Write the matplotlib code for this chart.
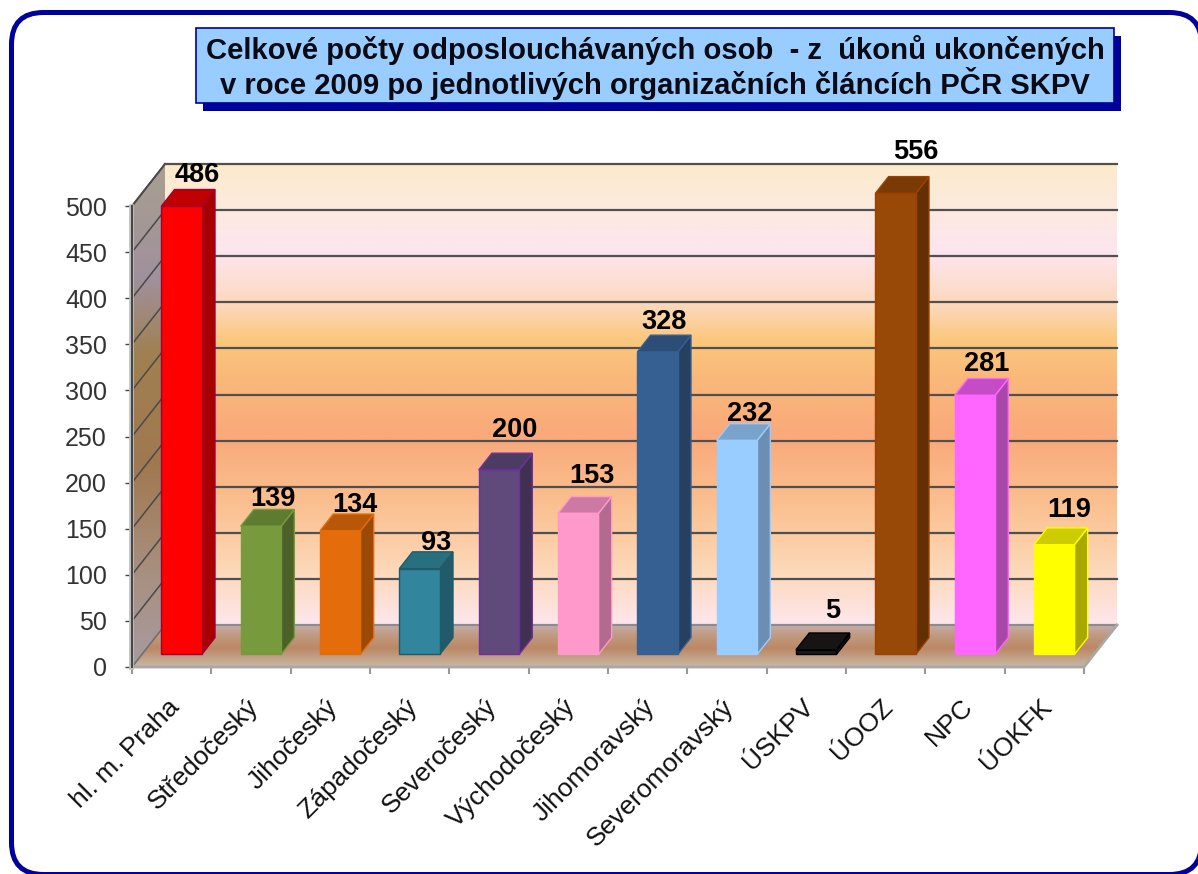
import numpy as np
import matplotlib
matplotlib.use("Agg")
import matplotlib.pyplot as plt
from matplotlib.colors import LinearSegmentedColormap
from matplotlib.patches import FancyBboxPatch, Polygon, Rectangle

plt.rcParams['font.family'] = ['Liberation Sans', 'DejaVu Sans']

categories = ["hl. m. Praha", "Středočeský", "Jihočeský", "Západočeský", "Severočeský",
              "Východočeský", "Jihomoravský", "Severomoravský", "ÚSKPV", "ÚOOZ", "NPC", "ÚOKFK"]
values = [486, 139, 134, 93, 200, 153, 328, 232, 5, 556, 281, 119]
y_ticks = [0, 50, 100, 150, 200, 250, 300, 350, 400, 450, 500]
title_lines = ["Celkové počty odposlouchávaných osob  - z  úkonů ukončených",
               "v roce 2009 po jednotlivých organizačních článcích PČR SKPV"]

front_colors = ["#FF0000", "#779A3C", "#E46C0A", "#31859C", "#604A7B", "#FF99CC",
                "#376092", "#99CCFF", "#1A1A1A", "#984807", "#FF66FF", "#FFFF00"]
side_colors = ["#A80000", "#4C6127", "#9A4906", "#215A69", "#403152", "#B26B8E",
               "#254061", "#6B8EB2", "#111111", "#632F04", "#A947A9", "#A8A800"]
top_colors = ["#C00000", "#5F7B30", "#B85708", "#28707F", "#4C3B63", "#CC7AA3",
              "#2C4D75", "#7AA3CC", "#151515", "#7A3A05", "#C44CC4", "#CCCC00"]
edge_colors = ["#A00030", "#779A3C", "#E46C0A", "#215A69", "#7030A0", "#FF99CC",
               "#376092", "#99CCFF", "#000000", "#A04000", "#FF66FF", "#FFFF00"]
# label nudges from the default position, in pixels (right, up)
label_dx = [2, -1, 1, 3, 3, 1, -7, 0, 3, 7, -1, 2]
label_dy = [-5, -10, -11, -11, 3, 1, -7, -10, 2, 5, -5, -2]

W, H = 1198, 874
fig = plt.figure(figsize=(W / 100, H / 100), dpi=100, facecolor="white")

# page layer: rounded frame and title box, in pixel units
bg = fig.add_axes([0, 0, 1, 1], zorder=0)
bg.set_xlim(0, W)
bg.set_ylim(H, 0)
bg.axis("off")
bg.add_patch(FancyBboxPatch((11.5, 12.5), 1190, 862, boxstyle="round,pad=0,rounding_size=32",
                            fc="white", ec="#00009A", lw=3.6, clip_on=False))

# chart layer
L, R, B, T = 132, 1084, 667, 206
ax = fig.add_axes([L / W, (H - B) / H, (R - L) / W, (B - T) / H], zorder=1)
ax.patch.set_visible(False)
n = len(values)
ymax = 500
ax.set_xlim(0, n)
ax.set_ylim(0, ymax)
for s in ax.spines.values():
    s.set_visible(False)

DX = 33 / ((R - L) / n)      # depth shift in category units
DY = 42 / ((B - T) / ymax)   # depth shift in value units


def proj(x, y, d):
    return (x + d * DX, y + d * DY)


def gradient(stops, poly_pts, z):
    """vertical gradient: stops = [(value level, colour)] from low to high"""
    lo, hi = stops[0][0], stops[-1][0]
    cmap = LinearSegmentedColormap.from_list(
        "g", [((v - lo) / (hi - lo), c) for v, c in stops])
    xs = [p[0] for p in poly_pts]
    im = ax.imshow(np.linspace(1, 0, 256).reshape(-1, 1), cmap=cmap, aspect="auto",
                   extent=(min(xs), max(xs), lo, hi), zorder=z,
                   interpolation="bilinear")
    im.set_clip_box(fig.bbox)
    im.set_clip_path(Polygon(poly_pts, transform=ax.transData))


backw = [proj(0, 0, 1), proj(n, 0, 1), proj(n, ymax, 1), proj(0, ymax, 1)]
floor = [proj(0, 0, 0), proj(n, 0, 0), proj(n, 0, 1), proj(0, 0, 1)]
leftw = [proj(0, 0, 0), proj(0, 0, 1), proj(0, ymax, 1), proj(0, ymax, 0)]

gradient([(DY, "#FEE6EC"), (DY + 60, "#FDD8B8"), (DY + 130, "#FBC090"), (DY + 205, "#F9A97A"),
          (DY + 270, "#FAB97A"), (DY + 310, "#FBC87E"), (DY + 345, "#FCD8B8"), (DY + 405, "#FDE5F0"),
          (DY + 450, "#FDEAE0"), (DY + ymax, "#FCEBCB")], backw, 1)
gradient([(0, "#C8B8A4"), (DY * 0.45, "#BC8866"), (DY * 0.75, "#C09A80"), (DY, "#C4ACAC")], floor, 1)
gradient([(0, "#A89AA0"), (100, "#A89080"), (220, "#A07850"), (340, "#A08050"),
          (420, "#A0909C"), (ymax + DY, "#A8A090")], leftw, 1)

# gridlines on both walls
for v in y_ticks[1:]:
    a, b, c = proj(0, v, 0), proj(0, v, 1), proj(n, v, 1)
    ax.plot([a[0], b[0]], [a[1], b[1]], color="#4A4A4A", lw=1.1, zorder=2, clip_on=False)
    ax.plot([b[0], c[0]], [b[1], c[1]], color="#505050", lw=1.6, zorder=2, clip_on=False)
a, b, c = proj(0, 0, 1), proj(n, 0, 1), proj(n, 0, 0)
ax.plot([a[0], b[0]], [a[1], b[1]], color="#8C8C8C", lw=1.6, zorder=2, clip_on=False)
ax.plot([b[0], c[0], 0], [b[1], c[1], 0], color="#A8A8A8", lw=2, zorder=2, clip_on=False)
a, b = proj(0, 0, 0), proj(0, 0, 1)
ax.plot([a[0], b[0]], [a[1], b[1]], color="#707070", lw=1.2, zorder=2, clip_on=False)
a, b = proj(0, ymax, 0), proj(0, ymax, 1)
ax.plot([a[0], b[0]], [a[1], b[1]], color="#4A4A4A", lw=1.4, zorder=2, clip_on=False)
ax.plot([0, 0], [0, ymax], color="#BEBEBE", lw=3.4, zorder=2, clip_on=False,
        transform=ax.transData + matplotlib.transforms.ScaledTranslation(-1.5 / 100, 0, fig.dpi_scale_trans))
ax.plot([0, 0], [0, ymax], color="#444444", lw=1.4, zorder=2, clip_on=False)

# 3-D bars
bw = 0.51
d0, d1 = 0.30, 0.70
for i, v in enumerate(values):
    top = min(v, ymax)
    x0, x1 = i + 0.5 - bw / 2, i + 0.5 + bw / 2
    front = [proj(x0, 0, d0), proj(x1, 0, d0), proj(x1, top, d0), proj(x0, top, d0)]
    side = [proj(x1, 0, d0), proj(x1, 0, d1), proj(x1, top, d1), proj(x1, top, d0)]
    roof = [proj(x0, top, d0), proj(x1, top, d0), proj(x1, top, d1), proj(x0, top, d1)]
    for pts, col in ((side, side_colors[i]), (roof, top_colors[i]), (front, front_colors[i])):
        ax.add_patch(Polygon(pts, closed=True, fc=col, ec=edge_colors[i], lw=1.0,
                             zorder=3 + i * 0.01, clip_on=False, joinstyle="miter"))
    px = proj(i + 0.5, top, d1)
    ax.annotate(str(v), xy=px, xytext=(label_dx[i] * 0.72, (7 + label_dy[i]) * 0.72),
                textcoords="offset points", ha="center", va="bottom", fontsize=19.5,
                fontweight="bold", color="black", zorder=5, annotation_clip=False)

# axes ticks and labels
ax.set_yticks(y_ticks)
ax.set_yticklabels([str(v) for v in y_ticks], fontsize=18, color="#333333")
ax.tick_params(axis="y", length=5, width=1, color="#444444", pad=13)
ax.set_xticks(np.arange(n + 1), minor=True)
ax.tick_params(axis="x", which="minor", length=5, width=1.5, color="#999999")
ax.set_xticks(np.arange(n) + 0.44)
ax.set_xticklabels(categories, fontsize=19, color="#111111", rotation=45, ha="right",
                   rotation_mode="anchor")
ax.tick_params(axis="x", which="major", length=0, pad=20)
ax.set_xlim(0, n)
ax.set_ylim(0, ymax)

# title box on top
top_ax = fig.add_axes([0, 0, 1, 1], zorder=2)
top_ax.set_xlim(0, W)
top_ax.set_ylim(H, 0)
top_ax.axis("off")
top_ax.add_patch(Rectangle((203, 36), 918, 75, fc="#00009A", ec="none"))
top_ax.add_patch(Rectangle((196, 28), 918, 75, fc="#99CCFF", ec="#00009A", lw=1.2))
for txt, yy in zip(title_lines, (50, 84)):
    top_ax.text(655, yy, txt, ha="center", va="center", fontsize=21.1, fontweight="bold",
                color="#0A0A14")

fig.savefig("out.png", dpi=100)
